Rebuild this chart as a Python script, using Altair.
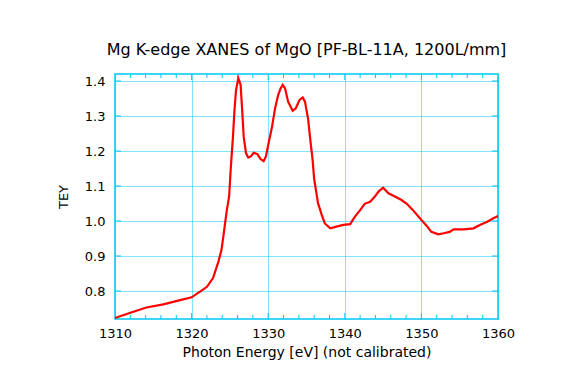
import altair as alt
import pandas as pd

energy = [1310.0, 1312.0, 1314.1, 1316.3, 1318.5, 1320.0, 1321.1, 1322.0, 1322.8, 1323.5,
          1323.9, 1324.2, 1324.6, 1324.9, 1325.1, 1325.4, 1325.6, 1325.8, 1326.1, 1326.4,
          1326.6, 1326.8, 1327.1, 1327.4, 1327.7, 1328.1, 1328.6, 1329.0, 1329.4, 1329.7,
          1330.0, 1330.5, 1330.9, 1331.3, 1331.6, 1331.9, 1332.2, 1332.6, 1333.2, 1333.6,
          1334.1, 1334.5, 1334.8, 1335.2, 1335.5, 1335.8, 1336.0, 1336.3, 1336.5, 1337.0,
          1337.4, 1338.1, 1338.9, 1339.8, 1340.7, 1341.3, 1342.0, 1342.6, 1343.3, 1343.9,
          1344.4, 1345.0, 1345.7, 1346.6, 1347.4, 1348.1, 1348.9, 1350.0, 1350.7, 1351.3,
          1352.2, 1352.9, 1353.7, 1354.2, 1355.5, 1356.8, 1357.7, 1358.6, 1359.4, 1360.0]
tey = [0.723, 0.738, 0.753, 0.762, 0.774, 0.782, 0.798, 0.812, 0.837, 0.884,
       0.917, 0.965, 1.031, 1.070, 1.146, 1.241, 1.317, 1.374, 1.408, 1.389,
       1.317, 1.241, 1.194, 1.181, 1.184, 1.195, 1.191, 1.177, 1.171, 1.184,
       1.217, 1.269, 1.322, 1.360, 1.378, 1.389, 1.379, 1.341, 1.315, 1.322,
       1.346, 1.353, 1.341, 1.293, 1.231, 1.174, 1.120, 1.079, 1.051, 1.017,
       0.993, 0.979, 0.984, 0.989, 0.991, 1.012, 1.031, 1.049, 1.055, 1.069,
       1.084, 1.095, 1.079, 1.069, 1.060, 1.049, 1.031, 1.003, 0.986, 0.969,
       0.962, 0.965, 0.969, 0.976, 0.976, 0.979, 0.989, 0.998, 1.008, 1.014]

x_major = [1310, 1320, 1330, 1340, 1350, 1360]
x_minor = [1312, 1314, 1316, 1318, 1322, 1324, 1326, 1328, 1332, 1334, 1336, 1338,
           1342, 1344, 1346, 1348, 1352, 1354, 1356, 1358]
y_major = [0.8, 0.9, 1.0, 1.1, 1.2, 1.3, 1.4]

CYAN = "#00C8F8"
FONT = "DejaVu Sans"
W, H = 383, 245

df = pd.DataFrame({"energy": energy, "tey": tey})
xmin = pd.DataFrame({"x": x_minor})
xmaj = pd.DataFrame({"x": x_major[1:-1]})
ymaj = pd.DataFrame({"y": y_major})

xscale = alt.Scale(domain=[1310, 1360], nice=False, zero=False)
yscale = alt.Scale(domain=[0.72, 1.42], nice=False, zero=False)

line = alt.Chart(df).mark_line(color="#FF0000", strokeWidth=2.2, interpolate="linear").encode(
    x=alt.X("energy:Q", scale=xscale,
            axis=alt.Axis(title="Photon Energy [eV] (not calibrated)", values=x_major,
                          format="d", grid=True, gridColor=CYAN, gridDash=[1, 1],
                          gridWidth=1, tickSize=0, domain=False, labelPadding=8,
                          labelFontSize=13, titleFontSize=14, titleFontWeight="normal",
                          labelFont=FONT, titleFont=FONT, labelColor="black",
                          titleColor="black", titlePadding=5, labelFlush=False)),
    y=alt.Y("tey:Q", scale=yscale,
            axis=alt.Axis(title="TEY", values=y_major, format=".1f", grid=True,
                          gridColor=CYAN, gridDash=[1, 1], gridWidth=1, tickSize=0,
                          domain=False, labelPadding=10, labelFontSize=13,
                          titleFontSize=13, titleFontWeight="normal", labelFont=FONT,
                          titleFont=FONT, labelColor="black", titleColor="black",
                          titlePadding=14, labelFlush=False)),
)

def xticks(data, length):
    bot = alt.Chart(data).mark_rule(color=CYAN, strokeWidth=1).encode(
        x=alt.X("x:Q", scale=xscale), y=alt.value(H), y2=alt.value(H - length))
    top = alt.Chart(data).mark_rule(color=CYAN, strokeWidth=1).encode(
        x=alt.X("x:Q", scale=xscale), y=alt.value(0), y2=alt.value(length))
    return [bot, top]

def yticks(data, length):
    left = alt.Chart(data).mark_rule(color=CYAN, strokeWidth=1).encode(
        y=alt.Y("y:Q", scale=yscale), x=alt.value(0), x2=alt.value(length))
    right = alt.Chart(data).mark_rule(color=CYAN, strokeWidth=1).encode(
        y=alt.Y("y:Q", scale=yscale), x=alt.value(W), x2=alt.value(W - length))
    return [left, right]

layers = xticks(xmin, 4) + xticks(xmaj, 6) + yticks(ymaj, 6) + [line]

chart = alt.layer(*layers).properties(
    width=W, height=H,
    title=alt.TitleParams("Mg K-edge XANES of MgO [PF-BL-11A, 1200L/mm]", fontSize=16,
                          font=FONT, fontWeight="normal", color="black", offset=16),
    autosize=alt.AutoSizeParams(type="none"),
    padding={"left": 107, "top": 66, "right": 60, "bottom": 44},
    background="white",
).configure_view(stroke=CYAN, strokeWidth=1.5)

chart.save("out.html", embed_options={"renderer": "svg", "actions": False})
